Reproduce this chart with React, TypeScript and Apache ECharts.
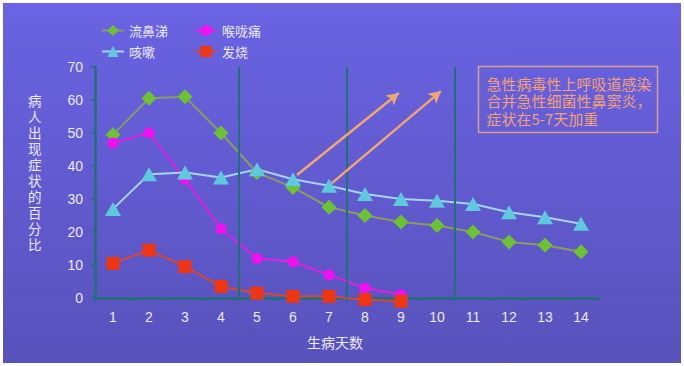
import React, { useEffect, useRef } from "react";
import * as echarts from "echarts";

const days = ["1", "2", "3", "4", "5", "6", "7", "8", "9", "10", "11", "12", "13", "14"];
const runnyNose = [49.5, 60.5, 61, 50, 38, 33.5, 27.5, 25, 23, 22, 20, 17, 16, 14];
const soreThroat = [47, 50, 36, 21, 12, 11, 7, 3, 1];
const cough = [27, 37.5, 38, 36.5, 39, 36, 34, 31.5, 30, 29.5, 28.5, 26, 24.5, 22.5];
const fever = [10.5, 14.5, 9.5, 3.5, 1.5, 0.5, 0.5, -0.5, -1];
const seriesNames = ["流鼻涕", "喉咙痛", "咳嗽", "发烧"];
const phaseBoundaries = [4, 7, 10];
const arrows = [
  [[5.61, 37.3], [8.44, 62.1]],
  [[6.58, 34.8], [9.61, 62.7]],
];
const noteLines = ["急性病毒性上呼吸道感染", "合并急性细菌性鼻窦炎，", "症状在5-7天加重"];
const yTitle = "病人出现症状的百分比";
const xTitle = "生病天数";

const FONT = "'Liberation Sans', 'Noto Sans CJK SC', sans-serif";
const CJK = "'Noto Sans CJK SC', sans-serif";
const AXIS = "#1f7272";
const TXT = "#eceaff";

export default function App() {
  const ref = useRef<HTMLDivElement>(null);
  useEffect(() => {
    const chart = echarts.init(ref.current!, undefined, { renderer: "svg" });
    const lineSeries = (name: string, data: number[], symbol: string, size: number | number[], lineColor: string, markColor: string, extra: any = {}) => ({
      name,
      type: "line",
      data,
      symbol,
      symbolSize: size,
      showAllSymbol: true,
      lineStyle: { color: lineColor, width: 2 },
      itemStyle: { color: markColor, borderWidth: 0 },
      emphasis: { disabled: true },
      ...extra,
    });
    chart.setOption({
      animation: false,
      backgroundColor: "#ffffff",
      textStyle: { fontFamily: FONT },
      graphic: [
        {
          type: "rect",
          left: 3,
          top: 3,
          z: -10,
          shape: { width: 678, height: 360 },
          style: {
            fill: new echarts.graphic.LinearGradient(0, 0, 0, 1, [
              { offset: 0, color: "#6a63e3" },
              { offset: 1, color: "#5852bc" },
            ]),
          },
        },
        {
          type: "group",
          left: 476,
          top: 64,
          children: [
            {
              type: "rect",
              shape: { x: 0, y: 0, width: 179, height: 66 },
              style: { fill: "none", stroke: "#d99f8a", lineWidth: 1.5 },
            },
            {
              type: "text",
              x: 8,
              y: 8,
              style: {
                text: noteLines.join("\n"),
                fill: "#f4a074",
                font: `15px ${CJK}`,
                lineHeight: 17.5,
              },
            },
          ],
        },
        {
          type: "text",
          left: 28,
          top: 92,
          style: {
            text: yTitle.split("").join("\n"),
            fill: TXT,
            font: `13.5px ${CJK}`,
            lineHeight: 16,
            align: "center",
          },
        },
        {
          type: "text",
          left: 307,
          top: 335,
          style: { text: xTitle, fill: TXT, font: `14px ${CJK}` },
        },
      ],
      legend: [
        {
          data: ["流鼻涕", "咳嗽"],
          left: 101,
          top: 24,
          orient: "vertical",
          padding: 0,
          itemGap: 8,
          itemWidth: 22,
          itemHeight: 14,
          textStyle: { color: TXT, fontSize: 13, fontFamily: CJK },
          selectedMode: false,
        },
        {
          data: ["喉咙痛", "发烧"],
          left: 194,
          top: 24,
          orient: "vertical",
          padding: 0,
          itemGap: 8,
          itemWidth: 22,
          itemHeight: 14,
          textStyle: { color: TXT, fontSize: 13, fontFamily: CJK },
          selectedMode: false,
        },
      ],
      grid: { left: 95, right: 85, top: 67, bottom: 68, containLabel: false, outerBoundsMode: "none" },
      xAxis: [
        {
          type: "category",
          data: days,
          boundaryGap: true,
          axisLine: { lineStyle: { color: AXIS, width: 2.5 } },
          axisTick: { show: true, length: 3, lineStyle: { color: AXIS, width: 1.5 } },
          axisLabel: { color: TXT, fontSize: 14, margin: 12, fontFamily: FONT },
          splitLine: { show: false },
        },
        { type: "value", min: 0, max: 14, show: false },
      ],
      yAxis: {
        type: "value",
        min: 0,
        max: 70,
        interval: 10,
        axisLine: { show: true, lineStyle: { color: AXIS, width: 2.5 } },
        axisTick: { show: true, length: 4, lineStyle: { color: AXIS, width: 1.5 } },
        axisLabel: { color: TXT, fontSize: 14, margin: 12, fontFamily: FONT },
        splitLine: { show: false },
      },
      series: [
        {
          type: "line",
          xAxisIndex: 1,
          data: [],
          silent: true,
          markLine: {
            silent: true,
            animation: false,
            label: { show: false },
            symbol: "none",
            lineStyle: { color: AXIS, width: 2, type: "solid" },
            data: phaseBoundaries.map((v) => ({ xAxis: v })),
          },
        },
        lineSeries(seriesNames[0], runnyNose, "diamond", 15, "#8c9a62", "#6cc232"),
        lineSeries(seriesNames[1], soreThroat, "circle", 11, "#e01ee6", "#f010f0"),
        lineSeries(seriesNames[2], cough, "triangle", [16, 14], "#a4d4f4", "#5ec8dc"),
        lineSeries(seriesNames[3], fever, "rect", 13, "#d44834", "#ee3612", { clip: false }),
        {
          type: "line",
          xAxisIndex: 1,
          data: [],
          silent: true,
          z: 5,
          markLine: {
            silent: true,
            animation: false,
            label: { show: false },
            symbol: ["none", "arrow"],
            symbolSize: [10, 12],
            lineStyle: { color: "#f0a66e", width: 2.5, type: "solid" },
            data: arrows.map(([a, b]) => [{ coord: a }, { coord: b }]),
          },
        },
      ],
    });
    return () => chart.dispose();
  }, []);
  return <div ref={ref} style={{ position: "fixed", left: 0, top: 0, width: 684, height: 366 }} />;
}
